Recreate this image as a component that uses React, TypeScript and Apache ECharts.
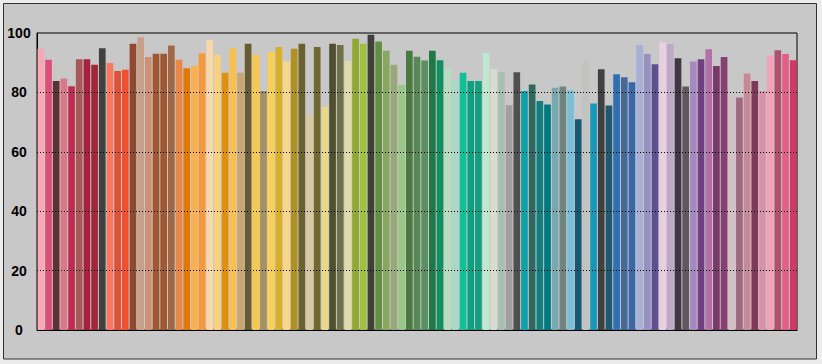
import React, { useEffect, useRef } from "react";
import * as echarts from "echarts";

const values: number[] = [
  94.7, 91.0, 83.8, 84.7, 82.1, 91.2, 91.2, 89.3, 94.9, 89.9,
  87.2, 87.6, 96.4, 98.6, 91.9, 93.0, 93.0, 95.8, 91.0, 88.1,
  89.0, 93.2, 97.7, 92.7, 86.6, 94.9, 86.6, 96.4, 92.7, 80.5,
  93.6, 95.3, 90.4, 94.7, 96.4, 72.2, 95.3, 75.1, 96.4, 96.0,
  90.6, 98.1, 96.4, 99.4, 97.1, 94.0, 89.3, 82.5, 94.0, 92.0,
  90.7, 94.0, 90.8, 87.9, 84.2, 86.6, 83.8, 83.8, 93.3, 87.9,
  86.8, 75.7, 86.8, 80.5, 82.7, 77.1, 75.9, 81.6, 82.0, 80.7,
  71.0, 90.5, 76.3, 87.8, 75.6, 86.1, 85.1, 83.4, 96.0, 92.9,
  89.5, 96.9, 96.3, 91.5, 82.0, 90.4, 91.2, 94.5, 88.9, 91.9,
  79.0, 78.3, 86.4, 83.8, 80.5, 92.4, 94.2, 92.9, 90.8,
];

const colors: string[] = [
  "#f7a8b8", "#dc5078", "#5e3038", "#d87888", "#c02c50", "#a85858", "#a82040", "#a02838", "#404040", "#f87860",
  "#e05038", "#f05030", "#904830", "#c8a088", "#d09078", "#a05830", "#a05830", "#a06848", "#e88848", "#e07808",
  "#f8b050", "#f89838", "#f8d8a8", "#f8d080", "#e09010", "#f8c050", "#c8a870", "#6a5a30", "#f8c848", "#a89060",
  "#f8d058", "#d8b028", "#f8d888", "#b09020", "#6a6030", "#d8c8a0", "#706830", "#e8d888", "#505030", "#707048",
  "#e0dca8", "#90a830", "#a0c040", "#404038", "#609040", "#88a860", "#98a878", "#98c888", "#4a7a40", "#588858",
  "#5a9060", "#207848", "#109060", "#b8dcc0", "#a8d8c8", "#10c098", "#10a080", "#10a080", "#c0e8d0", "#d8dcd0",
  "#a8c0b0", "#a0a0a0", "#505050", "#10a0a8", "#306860", "#108080", "#007880", "#78a8b0", "#708480", "#78c0d8",
  "#185870", "#c0c4c0", "#1898b8", "#404040", "#205870", "#3070b0", "#486898", "#3868a8", "#a8b0d8", "#9890c0",
  "#605090", "#e8d0e0", "#c0a8c8", "#403840", "#605860", "#a888c0", "#704080", "#b070a8", "#783868", "#884070",
  "#d4c0c4", "#a06880", "#c88898", "#803858", "#d890a8", "#f0a0b8", "#b05070", "#e06088", "#d03868",
];

const categories: string[] = values.map((_, i) => String(i + 1));
const gridLines: number[] = [20, 40, 60, 80];

export default function App() {
  const ref = useRef<HTMLDivElement>(null);
  useEffect(() => {
    if (!ref.current) return;
    const chart = echarts.init(ref.current, undefined, { renderer: "svg" });
    chart.setOption({
      animation: false,
      backgroundColor: "#ececec",
      graphic: [
        {
          type: "rect",
          z: -10,
          shape: { x: 3.5, y: 3.5, width: 813, height: 355.5 },
          style: { fill: "#c8c8c8", stroke: "#303030", lineWidth: 1 },
          silent: true,
        },
      ],
      grid: {
        left: 37,
        right: 25,
        top: 33,
        bottom: 34,
        show: true,
        borderColor: "#000",
        borderWidth: 1,
        backgroundColor: "transparent",
      },
      xAxis: {
        type: "category",
        data: categories,
        axisLabel: { show: false },
        axisTick: { show: false },
        axisLine: { show: true, lineStyle: { color: "#000", width: 1 } },
        splitLine: { show: false },
      },
      yAxis: {
        type: "value",
        min: 0,
        max: 100,
        interval: 20,
        axisLine: { show: true, lineStyle: { color: "#000", width: 1 } },
        axisTick: { show: false },
        splitLine: { show: false },
        axisLabel: {
          color: "#000",
          fontSize: 14,
          fontWeight: "bold",
          fontFamily: "Liberation Sans, Arial, sans-serif",
          align: "center",
          margin: 18,
        },
      },
      series: [
        {
          type: "bar",
          data: values.map((v, i) => ({ value: v, itemStyle: { color: colors[i] } })),
          barCategoryGap: "13%",
          markLine: {
            silent: true,
            symbol: "none",
            label: { show: false },
            lineStyle: { color: "#000", width: 1, type: [1, 2] },
            data: gridLines.map((g) => ({ yAxis: g })),
          },
        },
      ],
    });
    return () => chart.dispose();
  }, []);
  return (
    <div
      ref={ref}
      style={{ position: "fixed", left: 0, top: 0, width: 822, height: 364 }}
    />
  );
}
